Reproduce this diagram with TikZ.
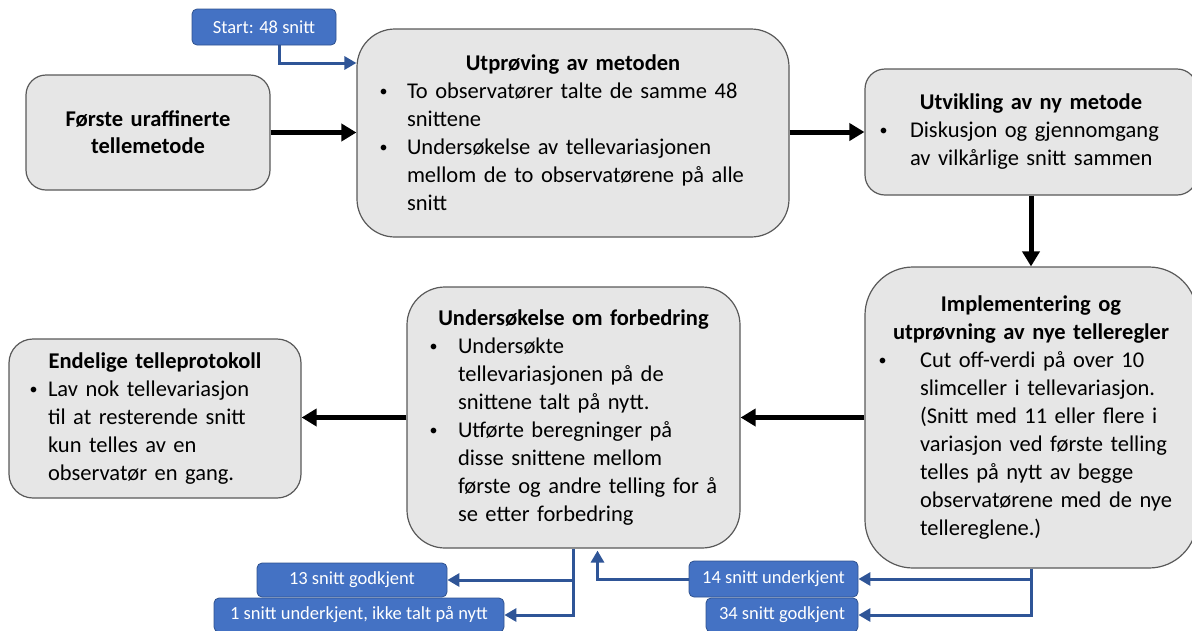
\documentclass[tikz,border=0pt]{standalone}
\usepackage{fontspec}
\setmainfont{Carlito}
\usetikzlibrary{arrows.meta}
\definecolor{boxfill}{HTML}{E6E6E6}
\definecolor{boxline}{HTML}{595959}
\definecolor{bluefill}{HTML}{4472C4}
\definecolor{blueline}{HTML}{2F528F}
\definecolor{bluearrow}{HTML}{2F5597}
\newcommand{\bdot}{\raisebox{2pt}{\fontsize{16}{16}\selectfont\textbullet}}
\newcommand{\bitem}[2]{\par\noindent\hangindent=#1\hangafter=1\makebox[#1][l]{\hspace{1pt}\bdot}#2\par}
\newcommand{\tl}[1]{\mbox{#1}}
\tikzset{
  gbox/.style={draw=boxline, line width=1.2pt, fill=boxfill, inner ysep=0pt,
     font=\fontsize{22.5}{28}\selectfont},
  bbox/.style={draw=blueline, line width=0.8pt, fill=bluefill, rounded corners=5pt,
     text=white, inner sep=0pt, font=\fontsize{18.5}{21}\selectfont},
  karrow/.style={line width=5pt, -{Triangle[length=15pt,width=17pt]}},
  blarrow/.style={draw=bluearrow, line width=3pt, -{Triangle[length=12pt,width=13pt]}},
}
\begin{document}
\begin{tikzpicture}[x=1pt,y=-1pt]
\useasboundingbox (0,0) rectangle (1192,630);
\clip (0,0) rectangle (1192,630);

% grey boxes
\node[gbox, rounded corners=20pt, minimum width=244pt, minimum height=115pt,
      text width=224pt, inner xsep=10pt, align=center, font=\fontsize{22.5}{27}\selectfont\bfseries]
  (f1) at (148,132.5) {Første uraffinerte\\tellemetode};

\node[gbox, rounded corners=38pt, minimum width=432pt, minimum height=208pt,
      text width=389pt, inner xsep=21.5pt]
  (utp) at (573,133) {%
  {\centering\bfseries Utprøving av metoden\par}%
  \bitem{28.5pt}{\tl{To observatører talte de samme 48}\newline\tl{snittene}}%
  \bitem{28.5pt}{\tl{Undersøkelse av tellevariasjonen}\newline\tl{mellom de to observatørene på alle}\newline\tl{snitt}}};

\node[gbox, rounded corners=20pt, minimum width=332pt, minimum height=126pt,
      text width=305pt, inner xsep=13.5pt]
  (utv) at (1031,132) {%
  {\centering\bfseries Utvikling av ny metode\par}%
  \bitem{31.5pt}{\tl{Diskusjon og gjennomgang}\newline\tl{av vilkårlige snitt sammen}}};

\node[gbox, rounded corners=48pt, minimum width=332pt, minimum height=301pt,
      text width=307pt, inner xsep=12.5pt]
  (imp) at (1031,417.5) {%
  {\centering\bfseries Implementering og\\utprøvning av nye telleregler\par}%
  \bitem{42.5pt}{\tl{Cut off-verdi på over 10}\newline\tl{slimceller i tellevariasjon.}\newline\tl{(Snitt med 11 eller flere i}\newline\tl{variasjon ved første telling}\newline\tl{telles på nytt av begge}\newline\tl{observatørene med de nye}\newline\tl{tellereglene.)}}};

\node[gbox, rounded corners=38pt, minimum width=333pt, minimum height=261pt,
      text width=290pt, inner xsep=21.5pt]
  (und) at (573.5,417.5) {%
  {\centering\bfseries Undersøkelse om forbedring\par}%
  \bitem{29.5pt}{\tl{Undersøkte}\newline\tl{tellevariasjonen på de}\newline\tl{snittene talt på nytt.}}%
  \bitem{29.5pt}{\tl{Utførte beregninger på}\newline\tl{disse snittene mellom}\newline\tl{første og andre telling for å}\newline\tl{se etter forbedring}}};

\node[gbox, rounded corners=24pt, minimum width=292pt, minimum height=159pt,
      text width=253pt, inner xsep=19.5pt]
  (end) at (155,418.5) {%
  {\centering\bfseries Endelige telleprotokoll\par}%
  \bitem{19.5pt}{\tl{Lav nok tellevariasjon}\newline\tl{til at resterende snitt}\newline\tl{kun telles av en}\newline\tl{observatør en gang.}}};

% blue boxes
\node[bbox, minimum width=144pt, minimum height=36pt] (start) at (264,27) {Start: 48 snitt};
\node[bbox, minimum width=190pt, minimum height=34pt] (g13) at (352,580) {13 snitt godkjent};
\node[bbox, minimum width=290pt, minimum height=34pt] (u1) at (359,615) {1 snitt underkjent, ikke talt på nytt};
\node[bbox, minimum width=169pt, minimum height=36pt] (u14) at (773.5,579) {14 snitt underkjent};
\node[bbox, minimum width=152pt, minimum height=34pt] (g34) at (782,615) {34 snitt godkjent};

% black arrows
\draw[karrow] (f1.east) -- (utp.west |- f1.east);
\draw[karrow] (utp.east |- utv.west) -- (utv.west);
\draw[karrow] (utv.south) -- (imp.north);
\draw[karrow] (imp.west) -- (und.east |- imp.west);
\draw[karrow] (und.west) -- (end.east |- und.west);

% blue connectors
\coordinate (s1) at (0,63);
\draw[blarrow] ([xshift=15pt]start.south) |- (utp.west |- s1);
\draw[blarrow] (und.south) |- (g13.east);
\draw[blarrow] (und.south) |- (u1.east);
\draw[blarrow] (u14.west) -| ([xshift=24pt,yshift=-2pt]und.south);
\draw[blarrow] (imp.south) |- (u14.east);
\draw[blarrow] (imp.south) |- (g34.east);
\end{tikzpicture}
\end{document}
